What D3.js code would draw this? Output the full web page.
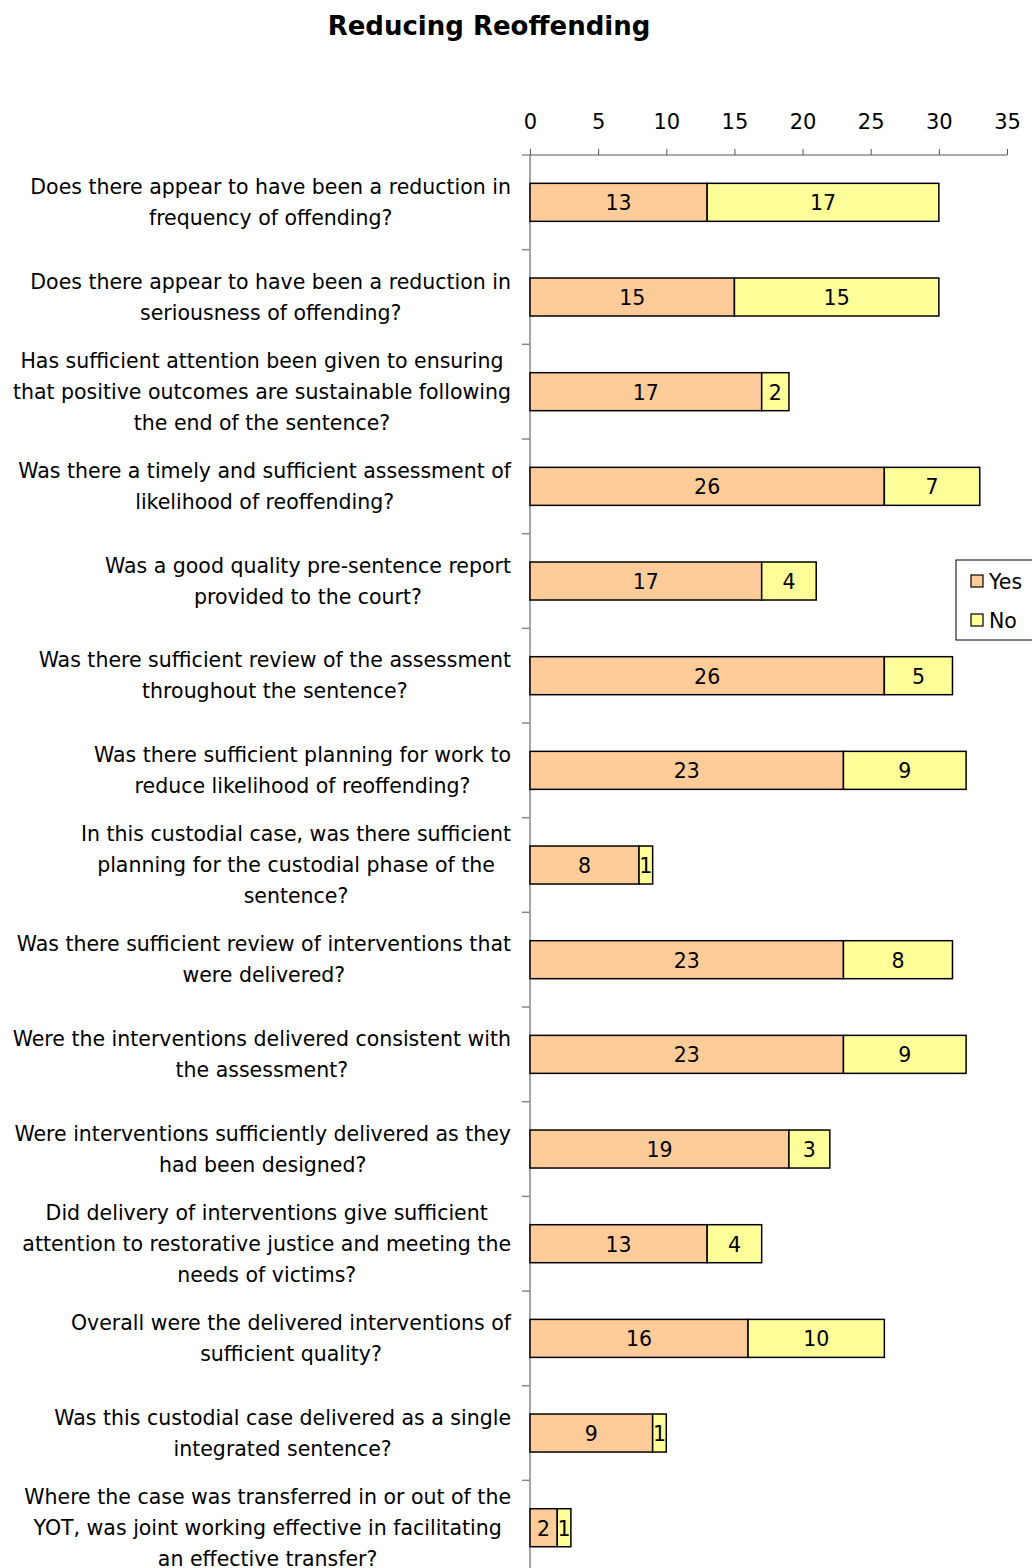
<!DOCTYPE html>
<html><head><meta charset="utf-8">
<script src="https://cdn.jsdelivr.net/npm/d3@7"></script>
<style>body{margin:0;background:#fff;} svg{display:block;}</style>
</head><body>
<svg id="chart" width="1032" height="1568"></svg>
<script>
const title = "Reducing Reoffending";
const categories = [
  ["Does there appear to have been a reduction in", "frequency of offending?"],
  ["Does there appear to have been a reduction in", "seriousness of offending?"],
  ["Has sufficient attention been given to ensuring", "that positive outcomes are sustainable following", "the end of the sentence?"],
  ["Was there a timely and sufficient assessment of", "likelihood of reoffending?"],
  ["Was a good quality pre-sentence report", "provided to the court?"],
  ["Was there sufficient review of the assessment", "throughout the sentence?"],
  ["Was there sufficient planning for work to", "reduce likelihood of reoffending?"],
  ["In this custodial case, was there sufficient", "planning for the custodial phase of the", "sentence?"],
  ["Was there sufficient review of interventions that", "were delivered?"],
  ["Were the interventions delivered consistent with", "the assessment?"],
  ["Were interventions sufficiently delivered as they", "had been designed?"],
  ["Did delivery of interventions give sufficient", "attention to restorative justice and meeting the", "needs of victims?"],
  ["Overall were the delivered interventions of", "sufficient quality?"],
  ["Was this custodial case delivered as a single", "integrated sentence?"],
  ["Where the case was transferred in or out of the", "YOT, was joint working effective in facilitating", "an effective transfer?"]
];
const yesValues = [13,15,17,26,17,26,23,8,23,23,19,13,16,9,2];
const noValues  = [17,15,2,7,4,5,9,1,8,9,3,4,10,1,1];
const seriesNames = ["Yes","No"];
const seriesColors = ["#FFCC99","#FFFF99"];
const tickValues = [0,5,10,15,20,25,30,35];

const FONT = "'DejaVu Sans',Verdana,sans-serif";
const svg = d3.select("#chart");
const x = d3.scaleLinear().domain([0,35]).range([530,1007]);
const step = 94.67;
const y = d3.scaleBand().domain(d3.range(categories.length)).range([155, 155 + step*categories.length]).padding(0);
const barH = 38;

// title
svg.append("text").attr("x",489).attr("y",35).attr("text-anchor","middle")
  .attr("font-family",FONT).attr("font-weight","bold").attr("font-size",26).text(title);

// top axis
const xAxis = d3.axisTop(x).tickValues(tickValues).tickSize(6).tickSizeOuter(0).tickPadding(20);
const gx = svg.append("g").attr("transform","translate(0,155)").call(xAxis);
gx.select(".domain").attr("stroke","#555").attr("d","M522,0H1007");
gx.selectAll(".tick line").attr("stroke","#555");
gx.selectAll(".tick text").attr("font-family",FONT).attr("font-size",21).attr("fill","#000");

// left axis
const leftG = svg.append("g");
leftG.append("line").attr("x1",530).attr("x2",530).attr("y1",155).attr("y2",1568).attr("stroke","#888").attr("stroke-width",1.5);
d3.range(1,categories.length).forEach(i=>{
  leftG.append("line").attr("x1",522).attr("x2",530).attr("y1",y(i)).attr("y2",y(i)).attr("stroke","#888").attr("stroke-width",1.5);
});

// stacked data
const rows = categories.map((c,i)=>({i, yes:yesValues[i], no:noValues[i]}));
const stack = d3.stack().keys(["yes","no"])(rows);
stack.forEach((layer,k)=>{
  const g = svg.append("g");
  g.selectAll("rect").data(layer).join("rect")
    .attr("x",d=>x(d[0])).attr("width",d=>x(d[1])-x(d[0]))
    .attr("y",(d,i)=>y(i)+y.bandwidth()/2-barH/2).attr("height",barH)
    .attr("fill",seriesColors[k]).attr("stroke","#000").attr("stroke-width",1.5);
  g.selectAll("text").data(layer).join("text")
    .attr("x",d=>(x(d[0])+x(d[1]))/2).attr("y",(d,i)=>y(i)+y.bandwidth()/2+8)
    .attr("text-anchor","middle").attr("font-family",FONT).attr("font-size",20.5)
    .text(d=>d[1]-d[0]);
});

// category labels
const lineH = 31;
categories.forEach((lines,i)=>{
  const cy = y(i)+y.bandwidth()/2;
  const g = svg.append("g");
  const texts = lines.map((l,j)=>g.append("text")
    .attr("y", cy + (j-(lines.length-1)/2)*lineH + 7)
    .attr("text-anchor","middle").attr("font-family",FONT).attr("font-size",20.5).text(l));
  const w = d3.max(texts, t=>t.node().getComputedTextLength());
  texts.forEach(t=>t.attr("x", 511 - w/2));
});

// legend
const lg = svg.append("g");
lg.append("rect").attr("x",956).attr("y",560).attr("width",90).attr("height",80).attr("fill","#fff").attr("stroke","#000").attr("stroke-width",1);
seriesNames.forEach((n,k)=>{
  lg.append("rect").attr("x",971).attr("y",575+k*39).attr("width",12).attr("height",12).attr("fill",seriesColors[k]).attr("stroke","#000").attr("stroke-width",1.2);
  lg.append("text").attr("x",989).attr("y",589+k*39).attr("font-family",FONT).attr("font-size",20.5).text(n);
});
</script>
</body></html>
